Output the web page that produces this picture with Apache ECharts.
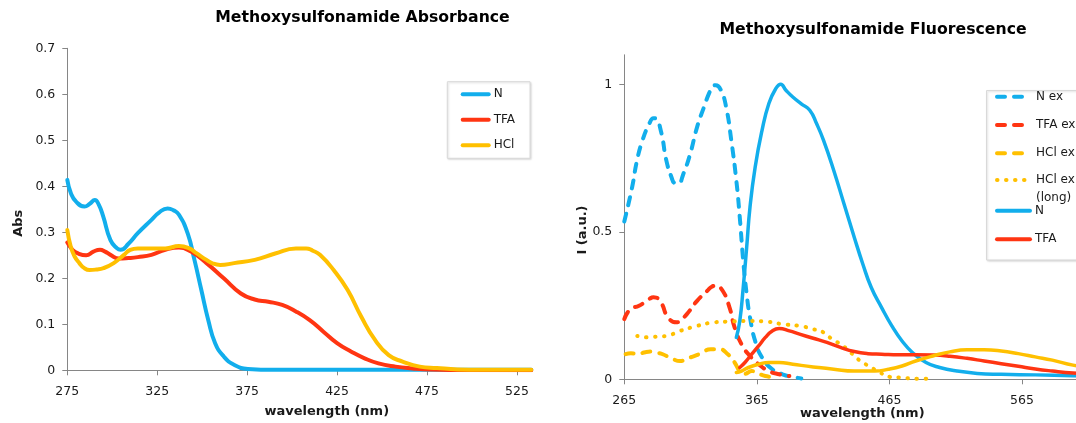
<!DOCTYPE html>
<html>
<head>
<meta charset="utf-8">
<title>Methoxysulfonamide spectra</title>
<script src="https://cdn.jsdelivr.net/npm/echarts@6/dist/echarts.min.js"></script>
<style>
  html, body { margin: 0; padding: 0; background: #fff; overflow: hidden; }
  #chart { width: 1140px; height: 423px; }
</style>
</head>
<body>
<div id="chart"></div>
<script>
// ---- Absorbance spectra: [wavelength nm, Abs] ----
const absN = [[275,0.414],[277,0.385],[280,0.366],[284.6,0.356],[287.5,0.362],[290.3,0.370],[292.5,0.360],[295,0.334],[299,0.283],[302.7,0.265],[304.6,0.262],[309,0.275],[314.2,0.298],[321.8,0.327],[326,0.343],[330.8,0.352],[334,0.348],[337.1,0.338],[341.9,0.298],[345.7,0.240],[349.5,0.175],[353.4,0.109],[357.2,0.059],[362,0.030],[367.7,0.012],[375.4,0.003],[390,0.001],[533,0.001]];
const absTFA = [[275,0.278],[277.9,0.262],[281,0.254],[285.5,0.250],[289.5,0.258],[293.2,0.262],[296,0.258],[299,0.251],[303.7,0.243],[309,0.244],[314.2,0.246],[321.8,0.251],[329.5,0.262],[337.1,0.267],[343.8,0.258],[352.4,0.233],[362,0.200],[371.5,0.167],[379.2,0.154],[386.8,0.149],[394.5,0.142],[402.1,0.128],[409.8,0.109],[417.4,0.084],[425,0.059],[432.7,0.041],[440.3,0.026],[448,0.015],[457.5,0.008],[467,0.004],[476.5,0.0015],[490,0.0005],[533,0]];
const absHCl = [[275,0.305],[276.9,0.269],[279,0.248],[281.7,0.233],[284.5,0.222],[287.4,0.218],[291,0.219],[295.1,0.222],[300.8,0.233],[306.5,0.251],[310,0.262],[314.2,0.265],[321.8,0.265],[329.5,0.265],[337.1,0.270],[342.8,0.265],[347,0.254],[352.4,0.240],[356,0.232],[360,0.229],[367.7,0.233],[379.2,0.240],[390.6,0.254],[402.1,0.265],[407.8,0.265],[411.5,0.260],[415.5,0.251],[423.1,0.218],[430.8,0.175],[438.4,0.117],[446.1,0.066],[453.7,0.033],[461.4,0.019],[471,0.008],[480.5,0.005],[492,0.002],[505,0.001],[533,0.001]];

// ---- Fluorescence: excitation and emission, [wavelength nm, I (a.u.)] ----
const exN = [[265,0.535],[270.9,0.651],[274.5,0.740],[278.7,0.810],[283.8,0.866],[287,0.885],[289,0.883],[292.8,0.838],[296.7,0.742],[300.6,0.685],[303,0.665],[305.7,0.663],[309.6,0.697],[314.7,0.764],[319.9,0.855],[325.1,0.923],[329,0.970],[331.5,0.991],[334,0.997],[337.9,0.980],[341.8,0.923],[345.7,0.810],[349.5,0.674],[352.1,0.549],[354.7,0.402],[357.3,0.289],[359.8,0.210],[363.7,0.130],[368.9,0.074],[376.6,0.034],[384.3,0.017],[392.1,0.008],[398.5,0.003]];
const exTFA = [[265,0.204],[269.6,0.238],[276.1,0.249],[283.8,0.272],[287,0.278],[289,0.277],[292.8,0.260],[298,0.210],[304.4,0.193],[308,0.203],[312.2,0.221],[319.9,0.266],[327.6,0.300],[331,0.314],[334,0.317],[339.2,0.300],[344.4,0.243],[348.2,0.176],[353.4,0.119],[358.6,0.085],[366.3,0.051],[374,0.028],[381.8,0.017],[389.5,0.011]];
const exHCl = [[266,0.085],[270,0.088],[276.1,0.087],[281,0.092],[286.4,0.094],[290,0.090],[294,0.085],[301.9,0.068],[307,0.062],[314.7,0.074],[322.5,0.087],[330.2,0.102],[336.6,0.102],[343.1,0.085],[348.2,0.057],[352.1,0.028],[356,0.019],[361.1,0.028],[366.3,0.019],[371.4,0.011],[376.6,0.008]];
const exHClLong = [[274.8,0.147],[283.8,0.142],[290,0.145],[296.7,0.147],[307,0.164],[319.9,0.181],[332.8,0.193],[345.7,0.196],[358.6,0.198],[371.4,0.196],[384.3,0.187],[397.2,0.181],[407.5,0.170],[415.3,0.159],[421.7,0.136],[428.1,0.119],[434.6,0.096],[439.7,0.074],[444.9,0.057],[451.3,0.040],[457.8,0.023],[465.5,0.008],[473.2,0.006],[481,0.003],[488.7,0.002],[496.4,0.002]];
const emN = [[349.5,0.142],[352.1,0.198],[354.7,0.311],[357.3,0.447],[359.8,0.583],[363.7,0.719],[368.9,0.844],[374,0.934],[379.2,0.985],[383,1.0],[386.9,0.980],[392.1,0.957],[398.5,0.934],[404.9,0.912],[410.1,0.866],[415.3,0.810],[423,0.708],[430.7,0.595],[438.5,0.481],[444.9,0.391],[451.3,0.311],[459.1,0.243],[466.8,0.181],[474.5,0.130],[482.3,0.091],[492.6,0.057],[502.9,0.040],[515.8,0.028],[531.2,0.020],[549.3,0.017],[575,0.015],[603.4,0.012],[615,0.011]];
const emTFA = [[352.1,0.040],[356,0.057],[361.1,0.085],[366.3,0.113],[371.4,0.142],[376.6,0.164],[381.8,0.172],[389.5,0.164],[397.2,0.153],[407.5,0.139],[417.8,0.125],[428.1,0.108],[438.5,0.094],[448.8,0.087],[459.1,0.085],[472,0.083],[484.8,0.083],[497.7,0.082],[510.6,0.078],[523.5,0.071],[536.4,0.062],[549.3,0.053],[562.2,0.044],[575,0.035],[587.9,0.028],[603.4,0.021],[615,0.018]];
const emHCl = [[349.5,0.023],[353.4,0.028],[358.6,0.040],[366.3,0.051],[374,0.057],[381.8,0.057],[392.1,0.051],[407.5,0.042],[423,0.034],[438.5,0.028],[453.9,0.028],[464.2,0.034],[474.5,0.045],[484.8,0.062],[497.7,0.079],[510.6,0.093],[523.5,0.100],[536.4,0.100],[549.3,0.096],[562.2,0.087],[575,0.076],[587.9,0.065],[603.4,0.048],[615,0.040]];

// ---- Tick labels ----
const absXTicks = [275, 325, 375, 425, 475, 525];
const absYTicks = [0, 0.1, 0.2, 0.3, 0.4, 0.5, 0.6, 0.7];
const flXTicks = [265, 365, 465, 565];
const flYTicks = [0, 0.5, 1];

const BLUE = '#12AEEC', RED = '#FF3512', GOLD = '#FFC000';
const FONT = 'DejaVu Sans';
const AXIS_GRAY = '#868686';
const TXT = '#1a1a1a';

function axisBase(ticks, labelMargin) {
  return {
    nameMoveOverlap: false,
    axisLine: { show: true, onZero: false, lineStyle: { color: AXIS_GRAY, width: 1 } },
    axisTick: { show: true, inside: false, length: 5, lineStyle: { color: AXIS_GRAY }, customValues: ticks },
    axisLabel: { customValues: ticks, margin: labelMargin, color: TXT, fontSize: 12.5, fontFamily: FONT },
    splitLine: { show: false }
  };
}

function line(name, data, color, width, dash, xi) {
  return {
    type: 'line', name: name, data: data,
    xAxisIndex: xi, yAxisIndex: xi,
    showSymbol: false, symbol: 'none',
    smooth: 0.5,
    lineStyle: { color: color, width: width, type: dash || 'solid', cap: 'round', join: 'round' },
    itemStyle: { color: color },
    emphasis: { disabled: true },
    animation: false
  };
}

const DASH = [8, 9];
const DOT = [0.5, 8.5];

// shared look of the legend entries: line only, no marker
const legendCommon = {
  orient: 'vertical', selectedMode: false, z: 5,
  itemStyle: { opacity: 0 },
  lineStyle: { width: 4 },
  textStyle: { fontSize: 12, color: TXT, fontFamily: FONT, lineHeight: 14 }
};

const chart = echarts.init(document.getElementById('chart'), null, { renderer: 'canvas' });

chart.setOption({
  animation: false,
  textStyle: { fontFamily: FONT },
  title: [
    { text: 'Methoxysulfonamide Absorbance', left: 362.5, top: 10, textAlign: 'center', textVerticalAlign: 'top', padding: 0,
      textStyle: { fontSize: 15.7, fontWeight: 'bold', color: '#000', fontFamily: FONT } },
    { text: 'Methoxysulfonamide Fluorescence', left: 873, top: 22, textAlign: 'center', textVerticalAlign: 'top', padding: 0,
      textStyle: { fontSize: 15.7, fontWeight: 'bold', color: '#000', fontFamily: FONT } }
  ],
  // fixed plot rectangles; axis names may sit near the page edge without shrinking the plots
  grid: [
    { left: 67.3, top: 48.3, width: 464, height: 322, outerBoundsMode: 'none', containLabel: false },
    { left: 624.3, top: 54.8, width: 464, height: 324.5, outerBoundsMode: 'none', containLabel: false }
  ],
  xAxis: [
    Object.assign(axisBase(absXTicks, 15), {
      type: 'value', gridIndex: 0, min: 275, max: 533,
      name: 'wavelength (nm)', nameLocation: 'middle', nameGap: 34.5,
      nameTextStyle: { fontSize: 13, fontWeight: 'bold', color: TXT, fontFamily: FONT, padding: [0, 0, 0, 55] }
    }),
    Object.assign(axisBase(flXTicks, 15), {
      type: 'value', gridIndex: 1, min: 265, max: 615,
      name: 'wavelength (nm)', nameLocation: 'middle', nameGap: 27.5,
      nameTextStyle: { fontSize: 13, fontWeight: 'bold', color: TXT, fontFamily: FONT, padding: [0, 0, 0, 12] }
    })
  ],
  yAxis: [
    Object.assign(axisBase(absYTicks, 12), {
      type: 'value', gridIndex: 0, min: 0, max: 0.7,
      name: 'Abs', nameLocation: 'middle', nameGap: 42,
      nameTextStyle: { fontSize: 13, fontWeight: 'bold', color: TXT, fontFamily: FONT, padding: [0, 28, 0, 0] }
    }),
    Object.assign(axisBase(flYTicks, 12), {
      type: 'value', gridIndex: 1, min: 0, max: 1.1,
      name: 'I (a.u.)', nameLocation: 'middle', nameGap: 35.5,
      nameTextStyle: { fontSize: 13, fontWeight: 'bold', color: TXT, fontFamily: FONT, padding: [0, 26, 0, 0] }
    })
  ],
  graphic: [
    // frame around the fluorescence legend
    { type: 'rect', z: 3, silent: true,
      shape: { x: 986.5, y: 90.5, width: 160, height: 169.5 },
      style: { fill: '#fff', stroke: '#d9d9d9', lineWidth: 1, shadowBlur: 2, shadowOffsetX: 1, shadowOffsetY: 1, shadowColor: 'rgba(0,0,0,0.15)' } }
  ],
  legend: [
    Object.assign({}, legendCommon, {
      data: ['N', 'TFA', 'HCl'], left: 447.3, top: 81.7,
      padding: [6.6, 15, 7, 13.4], itemGap: 13.5, itemWidth: 26, itemHeight: 12,
      backgroundColor: '#fff', borderColor: '#d9d9d9', borderWidth: 1,
      shadowBlur: 2, shadowOffsetX: 1, shadowOffsetY: 1, shadowColor: 'rgba(0,0,0,0.15)',
      textStyle: { fontSize: 12, color: TXT, fontFamily: FONT, lineHeight: 12 }
    }),
    Object.assign({}, legendCommon, {
      data: ['N ex', 'TFA ex', 'HCl ex'], left: 995, top: 89.7, padding: 0,
      itemGap: 14.3, itemWidth: 31, itemHeight: 14,
      textStyle: { fontSize: 12, color: TXT, fontFamily: FONT, lineHeight: 14, padding: [0, 0, 0, 3] }
    }),
    Object.assign({}, legendCommon, {
      // leading empty line keeps the first text line level with the dotted sample
      data: ['HCl ex (long)'], left: 995, top: 153, padding: 0,
      itemWidth: 31, itemHeight: 14,
      formatter: function (n) { return '\n' + n.replace(' (long)', '\n(long)'); },
      textStyle: { fontSize: 12, color: TXT, fontFamily: FONT, lineHeight: 18, padding: [0, 0, 0, 3] }
    }),
    Object.assign({}, legendCommon, {
      data: ['N ', 'TFA '], left: 995, top: 203.7, padding: 0,
      itemGap: 14.6, itemWidth: 33, itemHeight: 14
    })
  ],
  series: [
    line('N', absN, BLUE, 4, null, 0),
    line('TFA', absTFA, RED, 4, null, 0),
    line('HCl', absHCl, GOLD, 4, null, 0),
    line('N ex', exN, BLUE, 4, DASH, 1),
    line('TFA ex', exTFA, RED, 4, DASH, 1),
    line('HCl ex', exHCl, GOLD, 4, DASH, 1),
    line('HCl ex (long)', exHClLong, GOLD, 4, DOT, 1),
    line('N ', emN, BLUE, 3.5, null, 1),
    line('TFA ', emTFA, RED, 3.5, null, 1),
    line('HCl  ', emHCl, GOLD, 3.5, null, 1)
  ]
});
</script>
</body>
</html>
